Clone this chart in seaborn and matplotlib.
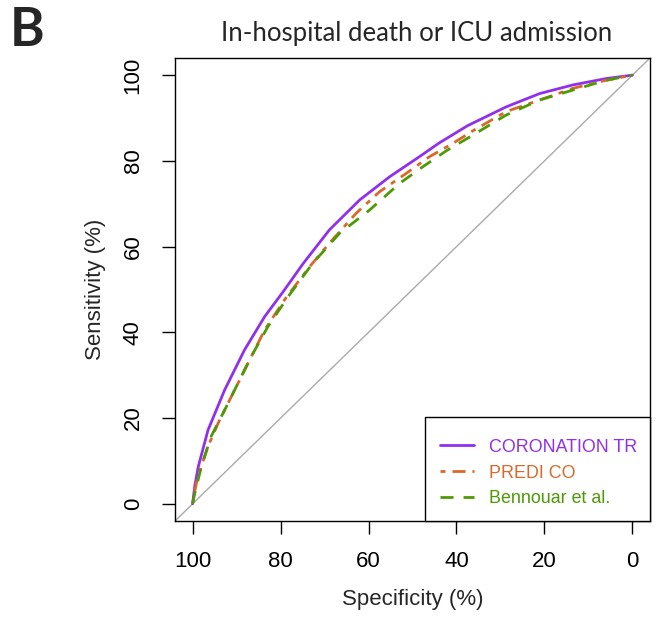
import matplotlib
matplotlib.use("Agg")
import matplotlib.pyplot as plt
import numpy as np
import pandas as pd
import seaborn as sns
from matplotlib.lines import Line2D
from matplotlib.patches import Rectangle

# ---- data ----
models = ["CORONATION TR", "PREDI CO", "Bennouar et al."]

spec_coronation = [100, 99.5, 98.7, 96.5, 92.7, 88.2, 83.6, 79.4, 74.9, 68.9, 62.0, 55.2, 48.4, 43.9, 37.5, 28.7, 21.1, 13.6, 6.0, 0]
sens_coronation = [0, 4.2, 8.7, 17.2, 26.6, 35.9, 43.7, 49.5, 56.0, 63.9, 70.9, 76.3, 81.0, 84.2, 88.2, 92.6, 95.7, 97.7, 99.2, 100]

spec_predico = [100, 99.5, 98.8, 96.5, 94.2, 91.2, 87.4, 83.6, 79.1, 73.4, 68.9, 62.8, 57.5, 51.4, 46.1, 40.8, 36.3, 28.7, 21.1, 13.6, 6.0, 0]
sens_predico = [0, 3.0, 6.4, 13.4, 18.8, 25.0, 32.8, 40.6, 47.6, 55.3, 60.8, 67.8, 72.8, 77.1, 81.0, 84.1, 87.0, 91.5, 94.2, 96.9, 98.8, 100]

spec_bennouar = [100, 99.5, 98.0, 95.8, 92.7, 89.7, 86.7, 82.9, 78.3, 72.7, 66.6, 59.8, 53.0, 47.7, 42.4, 36.3, 28.7, 21.1, 13.6, 6.0, 0]
sens_bennouar = [0, 2.5, 8.7, 15.7, 21.9, 28.1, 34.3, 41.3, 48.3, 56.1, 63.1, 68.5, 74.7, 78.6, 82.3, 86.0, 90.7, 94.2, 96.5, 98.8, 100]

xticks = [100, 80, 60, 40, 20, 0]
yticks = [0, 20, 40, 60, 80, 100]

title = "In-hospital death or ICU admission"
panel = "B"
xlabel = "Specificity (%)"
ylabel = "Sensitivity (%)"

colors = {"CORONATION TR": "#9030EE", "PREDI CO": "#D8692A", "Bennouar et al.": "#4E9A06"}
dash_styles = {"CORONATION TR": "", "PREDI CO": (1.8, 2.5, 4.7, 2.5), "Bennouar et al.": (4.7, 3.6)}

frames = []
for name, sp, se in zip(models,
                        [spec_coronation, spec_predico, spec_bennouar],
                        [sens_coronation, sens_predico, sens_bennouar]):
    frames.append(pd.DataFrame({"spec": sp, "sens": se, "model": name}))
df = pd.concat(frames, ignore_index=True)

sns.set_style("ticks")
plt.rcParams["font.family"] = ["Liberation Sans", "DejaVu Sans"]

W, H = 658, 621
fig = plt.figure(figsize=(W / 100, H / 100), dpi=100)
ax_l, ax_r, ax_t, ax_b = 175, 650, 58, 521
ax = fig.add_axes([ax_l / W, 1 - ax_b / H, (ax_r - ax_l) / W, (ax_b - ax_t) / H])

# diagonal reference
ax.axline((100, 0), (0, 100), color="#AAAAAA", lw=1.0, zorder=1)

sns.lineplot(data=df, x="spec", y="sens", hue="model", style="model",
             hue_order=models, style_order=models, palette=colors,
             dashes=dash_styles, sort=False, estimator=None, units="model",
             lw=2.0, legend=False, ax=ax, zorder=3)

ax.set_xlim(104, -4)
ax.set_ylim(-4, 104)
ax.set_xticks(xticks)
ax.set_yticks(yticks)
ax.set_xticklabels([str(t) for t in xticks])
ax.set_yticklabels([str(t) for t in yticks], rotation=90, va="center")
ax.tick_params(axis="both", length=9.5, width=1.0, color="black",
               labelsize=16, pad=12, labelcolor="black")
ax.tick_params(axis="y", pad=13)
for s in ax.spines.values():
    s.set_color("black")
    s.set_linewidth(1.0)
ax.set_xlabel(xlabel, fontsize=16, labelpad=12)
ax.set_ylabel(ylabel, fontsize=16, labelpad=12)

# legend frame (drawn as a box anchored to the lower-right corner)
aw, ah = ax_r - ax_l, ax_b - ax_t
box_left, box_top = 425, 417
ax.add_patch(Rectangle(((box_left - ax_l) / aw, 0), (ax_r - box_left) / aw,
                       (ax_b - box_top) / ah, transform=ax.transAxes,
                       facecolor="white", edgecolor="black", lw=1.0,
                       zorder=4, clip_on=False))
handles = [Line2D([0], [0], color=colors[m], lw=2.0,
                  dashes=dash_styles[m] if dash_styles[m] else (None, None))
           for m in models]
leg = ax.legend(handles, models, loc="center left",
                bbox_to_anchor=((440 - ax_l) / aw, (ax_b - 473) / ah),
                fontsize=12.9, frameon=False, borderaxespad=0, borderpad=0,
                handlelength=1.9, handletextpad=0.85, labelspacing=0.5,
                labelcolor=[colors[m] for m in models])
leg.set_zorder(5)

fig.text(417 / W, 1 - 34 / H, title, ha="center", va="center",
         fontsize=18.5, family=["Lato", "DejaVu Sans"])
fig.text(10 / W, 1 - 31 / H, panel, ha="left", va="center",
         fontsize=38, fontweight="bold", family=["Lato", "DejaVu Sans"])

fig.savefig("out.png", dpi=100)
